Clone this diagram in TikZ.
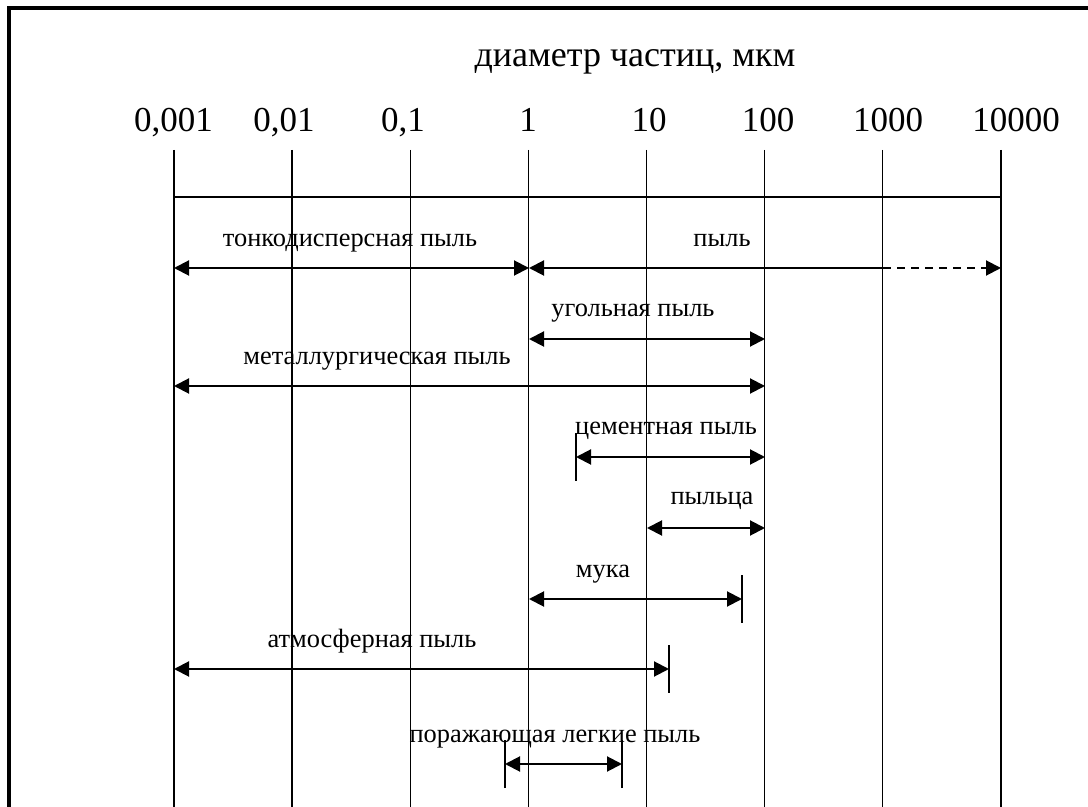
\documentclass[tikz,border=0pt]{standalone}
\usepackage{fontspec}
\setmainfont{Liberation Serif}
\usetikzlibrary{arrows.meta}

\begin{document}
\begin{tikzpicture}[x=0.5pt,y=-0.5pt,
    gridline/.style={line width=0.65pt},
    endtick/.style={line width=0.65pt},
    sizearrow/.style={line width=1pt, {Triangle[length=7.5pt,width=7.5pt]}-{Triangle[length=7.5pt,width=7.5pt]}},
    sizearrowto/.style={line width=1pt, -{Triangle[length=7.5pt,width=7.5pt]}},
    sizearrowfrom/.style={line width=1pt, {Triangle[length=7.5pt,width=7.5pt]}-},
    ticklbl/.style={font=\fontsize{17.5}{20}\selectfont, inner sep=0pt, anchor=base},
    dustlbl/.style={font=\fontsize{13.2}{15}\selectfont, inner sep=0pt, anchor=base}]
          \useasboundingbox (0,0) rectangle (1088,807);
          \draw [line width=2pt] (9,807) -- (9,8) -- (1088,8); % Draws the frame

          \node [ticklbl, font=\fontsize{18}{21}\selectfont] (title) at (635,67) {диаметр частиц, мкм};

          % Draws the scale lines
          \foreach \i/\lx/\t in {0/173.5/{0,001},1/284/{0,01},2/403/{0,1},3/528/1,4/649/10,5/768/100,6/888/1000,7/1016/10000} {
            \coordinate (top\i) at (174+118.14*\i,150);
            \coordinate (bot\i) at (174+118.14*\i,807);
            \node [ticklbl] (tick\i) at (\lx,132) {\t};
            \draw [gridline] (top\i) -- (bot\i);
          }
          \coordinate (axisL) at (174,197);
          \coordinate (axisR) at (1001,197);
          \draw [gridline] (axisL) -- (axisR);

          \coordinate (fineL) at (174,268);
          \coordinate (fineR) at (529,268);
          \coordinate (dustL) at (529,268);
          \coordinate (dustM) at (883,268);
          \coordinate (dustR) at (1001,268);
          \coordinate (coalL) at (529,339);
          \coordinate (coalR) at (765,339);
          \coordinate (metL) at (174,386);
          \coordinate (metR) at (765,386);
          \coordinate (cemL) at (576,457);
          \coordinate (cemR) at (765,457);
          \coordinate (polL) at (647,528);
          \coordinate (polR) at (765,528);
          \coordinate (flourL) at (529,599);
          \coordinate (flourR) at (742,599);
          \coordinate (atmL) at (174,669);
          \coordinate (atmR) at (669,669);
          \coordinate (lungL) at (505,764);
          \coordinate (lungR) at (622,764);

          \node [dustlbl] (fine) at (350,247) {тонкодисперсная пыль};
          \node [dustlbl] (dust) at (722,247) {пыль};
          \node [dustlbl] (coal) at (633,317) {угольная пыль};
          \node [dustlbl] (met) at (377,365) {металлургическая пыль};
          \node [dustlbl] (cem) at (666,435) {цементная пыль};
          \node [dustlbl] (pol) at (712,505) {пыльца};
          \node [dustlbl] (flour) at (603,578) {мука};
          \node [dustlbl] (atm) at (372,647) {атмосферная пыль};
          \node [dustlbl] (lung) at (555,742) {поражающая легкие пыль};

          \draw [sizearrow] (fineL) -- (fineR);
          \draw [sizearrowfrom] (dustL) -- (dustM);
          \draw [sizearrowto, dash pattern=on 4pt off 3pt] (dustM) -- (dustR);
          \draw [sizearrow] (coalL) -- (coalR);
          \draw [sizearrow] (metL) -- (metR);
          \draw [sizearrow] (cemL) -- (cemR);
          \draw [endtick] ([yshift=-12pt]cemL) -- ([yshift=12pt]cemL);
          \draw [sizearrow] (polL) -- (polR);
          \draw [sizearrow] (flourL) -- (flourR);
          \draw [endtick] ([yshift=-12pt]flourR) -- ([yshift=12pt]flourR);
          \draw [sizearrow] (atmL) -- (atmR);
          \draw [endtick] ([yshift=-12pt]atmR) -- ([yshift=12pt]atmR);
          \draw [sizearrow] (lungL) -- (lungR);
          \draw [endtick] ([yshift=-12pt]lungL) -- ([yshift=12pt]lungL);
          \draw [endtick] ([yshift=-12pt]lungR) -- ([yshift=12pt]lungR);
\end{tikzpicture}
\end{document}
